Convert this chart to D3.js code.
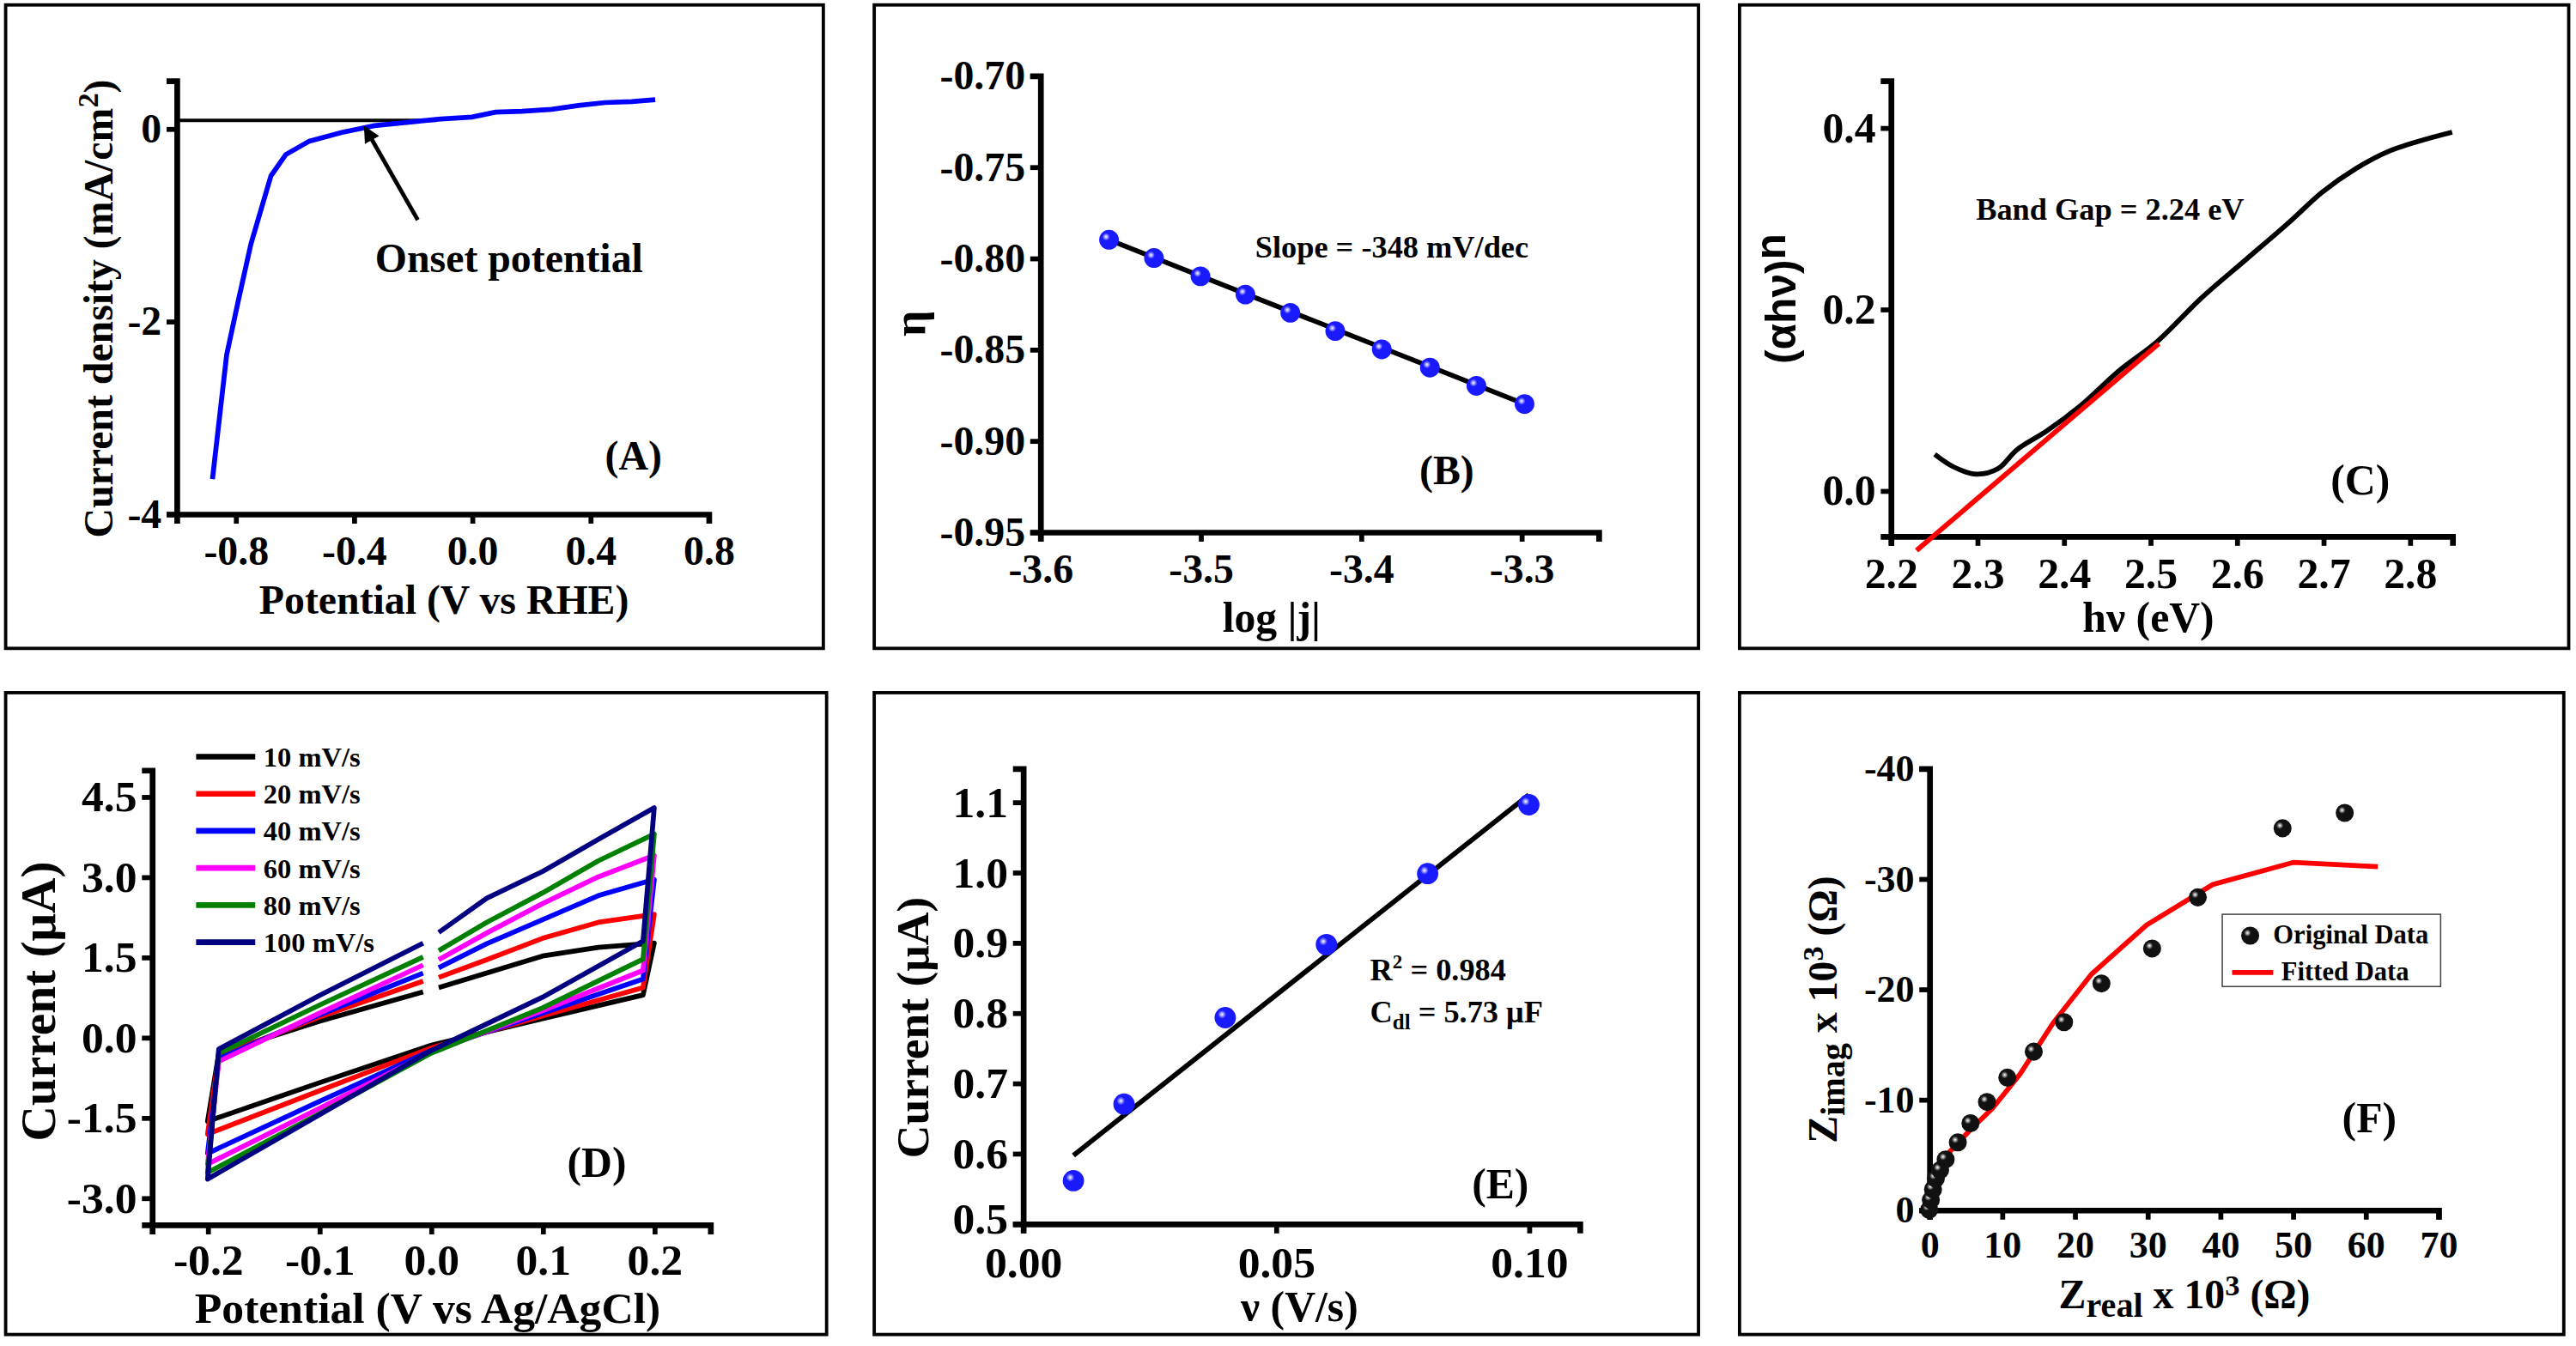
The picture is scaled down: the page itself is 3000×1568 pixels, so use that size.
<!DOCTYPE html>
<html><head><meta charset="utf-8">
<script src="https://cdn.jsdelivr.net/npm/d3@7"></script>
<style>
body{margin:0;background:#fff}
text{font-family:"Liberation Serif","DejaVu Serif",serif;font-weight:bold}
</style></head>
<body>
<svg id="fig" width="3000" height="1568" viewBox="0 0 1568 820"></svg>
<script>
// ---- data ----
// (A) LSV
var lsvV = [-0.878,-0.83,-0.79,-0.748,-0.68,-0.63,-0.55,-0.44,-0.33,-0.2,-0.105,0.0,0.08,0.17,0.27,0.36,0.45,0.54,0.62];
var lsvJ = [-3.64,-2.35,-1.78,-1.2,-0.49,-0.27,-0.13,-0.04,0.03,0.07,0.1,0.12,0.17,0.18,0.2,0.24,0.27,0.28,0.3];
// (B) Tafel
var tafelX = [-3.557,-3.529,-3.50,-3.472,-3.444,-3.416,-3.387,-3.357,-3.328,-3.298];
var tafelY = [-0.79,-0.80,-0.81,-0.82,-0.83,-0.84,-0.85,-0.86,-0.87,-0.88];
// (C) Tauc
var taucX = [2.251,2.273,2.299,2.324,2.346,2.381,2.420,2.464,2.509,2.559,2.610,2.661,2.699,2.738,2.776,2.814,2.849];
var taucY = [0.040,0.026,0.018,0.024,0.045,0.066,0.094,0.132,0.165,0.212,0.254,0.296,0.329,0.355,0.374,0.386,0.395];
var taucFitX = [2.230,2.510];
var taucFitY = [-0.066,0.162];
// (D) CV, potentials along each loop
var cvX = [0.007,0.05,0.1,0.15,0.2,0.19,0.1,0.0,-0.1,-0.2,-0.19,-0.1,-0.007];
var cvRates = ["10 mV/s","20 mV/s","40 mV/s","60 mV/s","80 mV/s","100 mV/s"];
var cvColors = ["#000000","#ff0000","#0000ff","#ff00ff","#008000","#000080"];
var cvI = [
  [0.93,1.2,1.52,1.68,1.76,0.79,0.35,-0.15,-0.85,-1.57,-0.30,0.30,0.85],
  [1.12,1.45,1.85,2.15,2.3,0.93,0.40,-0.2,-1.0,-1.81,-0.35,0.38,1.05],
  [1.30,1.75,2.2,2.65,2.95,1.09,0.45,-0.25,-1.2,-2.17,-0.40,0.42,1.2],
  [1.45,1.95,2.5,3.0,3.4,1.25,0.50,-0.28,-1.33,-2.37,-0.45,0.45,1.35],
  [1.62,2.15,2.7,3.3,3.8,1.46,0.55,-0.3,-1.43,-2.53,-0.30,0.6,1.5],
  [1.96,2.6,3.1,3.7,4.29,1.80,0.75,-0.25,-1.45,-2.65,-0.22,0.78,1.76]
];
// (E) double-layer capacitance
var scanRate = [0.01,0.02,0.04,0.06,0.08,0.10];
var capCurrent = [0.561,0.67,0.793,0.897,0.998,1.096];
var capFitX = [0.01,0.10];
var capFitY = [0.597,1.110];
// (F) Nyquist
var zReal = [0,0.23,0.53,0.91,1.51,2.27,3.94,5.68,7.95,10.75,14.38,18.55,23.69,30.66,36.94,48.6,57.15];
var zImag = [0,-0.89,-1.85,-2.82,-3.59,-4.56,-6.10,-7.84,-9.77,-11.97,-14.32,-16.99,-20.5,-23.67,-28.3,-34.56,-35.95];
var fitReal = [0,1.14,2.65,5.68,8.71,12.49,17.03,22.33,29.9,38.98,50.11,61.7];
var fitImag = [0,-3.4,-5.14,-7.26,-9.19,-12.28,-16.91,-21.35,-25.79,-29.46,-31.47,-31.08];

var svg = d3.select("#fig");
var defs = svg.append("defs");
function ballGrad(id, c) {
  var g = defs.append("radialGradient").attr("id", id).attr("cx", "35%").attr("cy", "35%").attr("r", "65%");
  g.append("stop").attr("offset", "0%").attr("stop-color", "#fff");
  g.append("stop").attr("offset", "30%").attr("stop-color", c);
  g.append("stop").attr("offset", "100%").attr("stop-color", c);
}
ballGrad("blueBall", "#1a1aff");
ballGrad("blackBall", "#111");

// frames
[[3,3,498,392],[532,3,502,392],[1059,3,505,392],[3,422,500,391],[532,422,502,391],[1059,422,502,391]].forEach(function (p) {
  svg.append("rect").attr("x", p[0]).attr("y", p[1]).attr("width", p[2]).attr("height", p[3])
    .attr("fill", "none").attr("stroke", "#000").attr("stroke-width", 2);
});

function axes(x, y, o) {
  var gx = svg.append("g").attr("transform", "translate(0," + y.range()[0] + ")")
    .call(d3.axisBottom(x).tickValues(o.xt).tickFormat(o.xf).tickSizeOuter(0).tickSize(6).tickPadding(o.xp || 5));
  var gy = svg.append("g").attr("transform", "translate(" + x.range()[0] + ",0)")
    .call(d3.axisLeft(y).tickValues(o.yt).tickFormat(o.yf).tickSizeOuter(0).tickSize(6).tickPadding(3));
  [gx, gy].forEach(function (g) {
    g.select(".domain").attr("stroke-width", 3.5);
    g.selectAll(".tick line").attr("stroke-width", 3);
    g.selectAll("text").attr("font-size", o.fs).attr("font-family", "Liberation Serif").attr("font-weight", "bold");
  });
  gx.selectAll("text").attr("dy", "0.8em");
  return gy;
}
function label(x, y, s, fs, rot, anchor) {
  var t = svg.append("text").attr("font-size", fs).attr("text-anchor", anchor || "start");
  if (rot) t.attr("transform", "translate(" + x + "," + y + ") rotate(-90)");
  else t.attr("x", x).attr("y", y);
  t.text(s);
  return t;
}
var fmt = function (n) { return function (d) { return d3.format("." + n + "f")(d).replace("−", "-"); }; };

// ---- (A) ----
var xA = d3.scaleLinear().domain([-1.0, 0.8]).range([107, 431]);
var yA = d3.scaleLinear().domain([-4, 0.5]).range([313, 49]);
axes(xA, yA, {xt: [-0.8,-0.4,0,0.4,0.8], xf: fmt(1), yt: [-4,-2,0], yf: fmt(0), fs: 25});
svg.append("line").attr("x1", xA(-1)).attr("x2", xA(-0.12)).attr("y1", yA(0.085)).attr("y2", yA(0.085))
  .attr("stroke", "#000").attr("stroke-width", 2);
svg.append("path").datum(d3.range(lsvV.length))
  .attr("d", d3.line().x(function (i) { return xA(lsvV[i]); }).y(function (i) { return yA(lsvJ[i]); }))
  .attr("fill", "none").attr("stroke", "#0000ff").attr("stroke-width", 3);
defs.append("marker").attr("id", "arr").attr("viewBox", "0 0 10 10").attr("refX", 8).attr("refY", 5)
  .attr("markerWidth", 4).attr("markerHeight", 4).attr("orient", "auto")
  .append("path").attr("d", "M0,0L10,5L0,10z").attr("fill", "#000");
svg.append("line").attr("x1", 254).attr("y1", 134).attr("x2", xA(-0.36)).attr("y2", yA(0.0))
  .attr("stroke", "#000").attr("stroke-width", 2.5).attr("marker-end", "url(#arr)");
label(228, 166, "Onset potential", 25);
label(368, 286, "(A)", 25);
label(270, 374, "Potential (V vs RHE)", 25, false, "middle");
var tA = label(68, 188, "Current density (mA/cm", 25, true, "middle");
tA.append("tspan").attr("dy", -9).attr("font-size", 18).text("2");
tA.append("tspan").attr("dy", 9).text(")");

// ---- (B) ----
var xB = d3.scaleLinear().domain([-3.6, -3.252]).range([633, 973]);
var yB = d3.scaleLinear().domain([-0.95, -0.70]).range([324, 46]);
axes(xB, yB, {xt: [-3.6,-3.5,-3.4,-3.3], xf: fmt(1), yt: [-0.95,-0.9,-0.85,-0.8,-0.75,-0.7], yf: fmt(2), fs: 25});
svg.append("line").attr("x1", xB(tafelX[0])).attr("y1", yB(tafelY[0]))
  .attr("x2", xB(tafelX[tafelX.length - 1])).attr("y2", yB(tafelY[tafelY.length - 1]))
  .attr("stroke", "#000").attr("stroke-width", 3);
svg.append("g").selectAll("circle").data(d3.range(tafelX.length)).enter().append("circle")
  .attr("cx", function (i) { return xB(tafelX[i]); }).attr("cy", function (i) { return yB(tafelY[i]); })
  .attr("r", 6).attr("fill", "url(#blueBall)");
label(764, 157, "Slope = -348 mV/dec", 19);
label(864, 295, "(B)", 25);
label(774, 385, "log |j|", 26, false, "middle");
label(563, 197, "η", 28, true, "middle");

// ---- (C) ----
var xC = d3.scaleLinear().domain([2.2, 2.849]).range([1151, 1493]);
var yC = d3.scaleLinear().domain([-0.05, 0.452]).range([326.5, 49]);
axes(xC, yC, {xt: [2.2,2.3,2.4,2.5,2.6,2.7,2.8], xf: fmt(1), yt: [0,0.2,0.4], yf: fmt(1), fs: 26});
svg.append("path").datum(d3.range(taucX.length))
  .attr("d", d3.line().curve(d3.curveCatmullRom).x(function (i) { return xC(taucX[i]); }).y(function (i) { return yC(taucY[i]); }))
  .attr("fill", "none").attr("stroke", "#000").attr("stroke-width", 3);
svg.append("line").attr("x1", xC(taucFitX[0])).attr("y1", yC(taucFitY[0]))
  .attr("x2", xC(taucFitX[1])).attr("y2", yC(taucFitY[1])).attr("stroke", "#ff0000").attr("stroke-width", 3);
label(1203, 134, "Band Gap = 2.24 eV", 19);
label(1419, 301, "(C)", 26);
label(1308, 385, "hν (eV)", 26, false, "middle");
var tC = label(1093, 182, "(αhν)", 26, true, "middle").style("font-family", "Liberation Sans");
tC.append("tspan").attr("dy", -6).text("n");

// ---- (D) ----
var xD = d3.scaleLinear().domain([-0.25, 0.25]).range([92, 432]);
var yD = d3.scaleLinear().domain([-3.5, 5]).range([746, 469]);
axes(xD, yD, {xt: [-0.2,-0.1,0,0.1,0.2], xf: fmt(1), yt: [-3,-1.5,0,1.5,3,4.5], yf: fmt(1), fs: 27, xp: 3});
cvI.forEach(function (s, k) {
  var pts = cvX.map(function (v, j) { return [xD(v), yD(s[j])]; });
  svg.append("path").attr("d", d3.line()(pts))
    .attr("fill", "none").attr("stroke", cvColors[k]).attr("stroke-width", 3).attr("stroke-linejoin", "round");
  var ly = 461 + k * 22.6;
  svg.append("line").attr("x1", 119).attr("x2", 155).attr("y1", ly).attr("y2", ly)
    .attr("stroke", cvColors[k]).attr("stroke-width", 3.5);
  label(160, ly + 6, cvRates[k], 17);
});
label(345, 717, "(D)", 26);
label(260, 806, "Potential (V vs Ag/AgCl)", 27, false, "middle");
label(33, 610, "Current (μA)", 30, true, "middle");

// ---- (E) ----
var xE = d3.scaleLinear().domain([0, 0.11]).range([622.5, 961.5]);
var yE = d3.scaleLinear().domain([0.5, 1.148]).range([745.4, 468]);
var gyE = axes(xE, yE, {xt: [0,0.05,0.1], xf: fmt(2), yt: [0.5,0.6,0.7,0.8,0.9,1.0,1.1], yf: fmt(1), fs: 27, xp: 5});
gyE.selectAll(".tick text").filter(function (d) { return d === 0.5; }).attr("dy", "0.2em");
svg.append("line").attr("x1", xE(capFitX[0])).attr("y1", yE(capFitY[0]))
  .attr("x2", xE(capFitX[1])).attr("y2", yE(capFitY[1])).attr("stroke", "#000").attr("stroke-width", 3);
svg.append("g").selectAll("circle").data(d3.range(scanRate.length)).enter().append("circle")
  .attr("cx", function (i) { return xE(scanRate[i]); }).attr("cy", function (i) { return yE(capCurrent[i]); })
  .attr("r", 6.5).attr("fill", "url(#blueBall)");
var r2 = label(834, 597, "R", 19);
r2.append("tspan").attr("dy", -7).attr("font-size", 12).text("2");
r2.append("tspan").attr("dy", 7).text(" = 0.984");
var cdl = label(834, 623, "C", 19);
cdl.append("tspan").attr("dy", 4).attr("font-size", 13).text("dl");
cdl.append("tspan").attr("dy", -4).text(" = 5.73 μF");
label(896, 730, "(E)", 26);
label(791, 805, "ν (V/s)", 26, false, "middle");
label(565, 626, "Current (μA)", 28, true, "middle");

// ---- (F) ----
var xF = d3.scaleLinear().domain([0, 70]).range([1174.5, 1484.5]);
var yF = d3.scaleLinear().domain([0, -40]).range([737, 468]);
axes(xF, yF, {xt: d3.range(0, 71, 10), xf: fmt(0), yt: [0,-10,-20,-30,-40], yf: fmt(0), fs: 23});
svg.append("path").datum(d3.range(fitReal.length))
  .attr("d", d3.line().x(function (i) { return xF(fitReal[i]); }).y(function (i) { return yF(fitImag[i]); }))
  .attr("fill", "none").attr("stroke", "#ff0000").attr("stroke-width", 3);
svg.append("g").selectAll("circle").data(d3.range(zReal.length)).enter().append("circle")
  .attr("cx", function (i) { return xF(zReal[i]); }).attr("cy", function (i) { return yF(zImag[i]); })
  .attr("r", 5.5).attr("fill", "url(#blackBall)");
svg.append("rect").attr("x", 1353).attr("y", 557).attr("width", 133).attr("height", 44)
  .attr("fill", "#fff").attr("stroke", "#444").attr("stroke-width", 0.8);
svg.append("circle").attr("cx", 1370).attr("cy", 570).attr("r", 5.5).attr("fill", "url(#blackBall)");
label(1384, 575, "Original Data", 16);
svg.append("line").attr("x1", 1359).attr("x2", 1384).attr("y1", 592.5).attr("y2", 592.5)
  .attr("stroke", "#ff0000").attr("stroke-width", 3);
label(1389, 597, "Fitted Data", 16);
label(1426, 690, "(F)", 26);
var xt = label(1330, 797, "Z", 25, false, "middle");
xt.append("tspan").attr("dy", 5).attr("font-size", 21).text("real");
xt.append("tspan").attr("dy", -5).text(" x 10");
xt.append("tspan").attr("dy", -8).attr("font-size", 18).text("3");
xt.append("tspan").attr("dy", 8).text(" (Ω)");
var yt = label(1118, 615, "Z", 25, true, "middle");
yt.append("tspan").attr("dy", 5).attr("font-size", 21).text("imag");
yt.append("tspan").attr("dy", -5).text(" x 10");
yt.append("tspan").attr("dy", -8).attr("font-size", 18).text("3");
yt.append("tspan").attr("dy", 8).text(" (Ω)");
</script>
</body></html>
